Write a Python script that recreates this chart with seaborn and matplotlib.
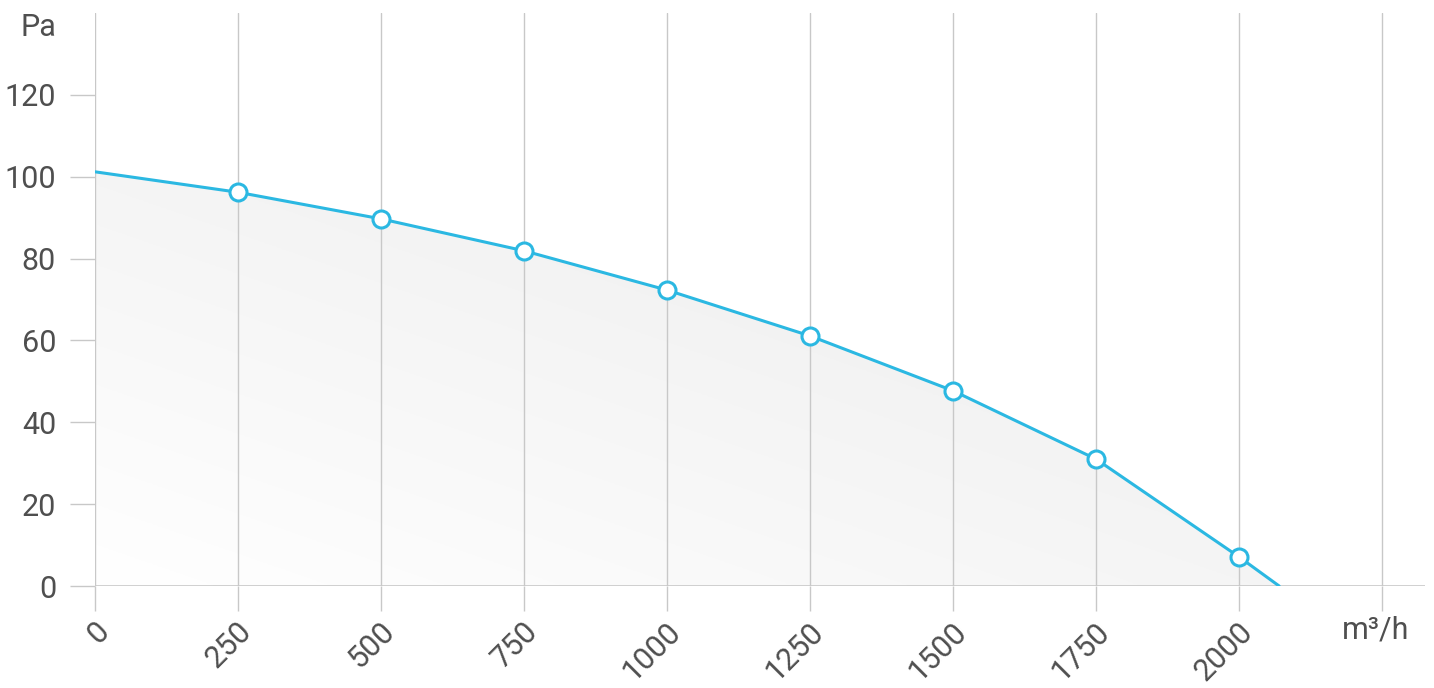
import matplotlib
matplotlib.use("Agg")
import matplotlib.pyplot as plt
import matplotlib.transforms as mtransforms
import seaborn as sns
import numpy as np
import pandas as pd
from matplotlib.path import Path
from matplotlib.patches import PathPatch

# fan curve: airflow (m3/h) vs static pressure (Pa)
flow = [0, 250, 500, 750, 1000, 1250, 1500, 1750, 2000, 2070]
pressure = [101.2, 96.2, 89.7, 81.9, 72.3, 61.1, 47.7, 31.0, 7.1, 0.0]
marker_flow = [250, 500, 750, 1000, 1250, 1500, 1750, 2000]
marker_pressure = [96.2, 89.7, 81.9, 72.3, 61.1, 47.7, 31.0, 7.1]
x_ticks = [0, 250, 500, 750, 1000, 1250, 1500, 1750, 2000, 2250]
x_labels = ["0", "250", "500", "750", "1000", "1250", "1500", "1750", "2000", ""]
y_ticks = [0, 20, 40, 60, 80, 100, 120]

df = pd.DataFrame({"flow": flow, "pressure": pressure})
dm = pd.DataFrame({"flow": marker_flow, "pressure": marker_pressure})

sns.set_theme(style="white")
plt.rcParams["font.family"] = ["Roboto", "DejaVu Sans"]
blue = "#2bb8e2"
grid_c = "#c8c8c8"
txt_c = "#4f4f4f"

fig = plt.figure(figsize=(14.34, 6.88), dpi=100)
ax = fig.add_axes([95/1434, 102/688, (1425-95)/1434, (586-13)/688])
ax.set_xlim(0, 2325)
ax.set_ylim(0, 140)

# gradient fill under curve
xx, yy = np.meshgrid(np.linspace(0, 2325, 300), np.linspace(0, 140, 300))
t = np.clip(0.5*yy/100 + 0.5*xx/2070, 0, 1)
shade = 1.0 - 0.08*t
img = ax.imshow(np.dstack([shade, shade, shade]), extent=[0, 2325, 0, 140],
                origin="lower", aspect="auto", zorder=1)
verts = list(zip(flow, pressure)) + [(2070, 0), (0, 0)]
clip = PathPatch(Path(verts), transform=ax.transData, facecolor="none", edgecolor="none")
ax.add_patch(clip)
img.set_clip_path(clip)

sns.lineplot(data=df, x="flow", y="pressure", color=blue, linewidth=2.2, ax=ax, zorder=4)
sns.scatterplot(data=dm, x="flow", y="pressure", s=150, facecolor="white",
                edgecolor=blue, linewidth=2.2, ax=ax, zorder=5)

for s in ax.spines.values():
    s.set_visible(False)
ax.axhline(0, color=grid_c, linewidth=1.2, zorder=2)
for x in x_ticks:
    ax.axvline(x, color=grid_c, linewidth=1.0, zorder=2)

ax.set_xticks(x_ticks)
ax.set_xticklabels(x_labels, rotation=45, ha="right", va="center", rotation_mode="anchor")
ax.set_yticks(y_ticks)
ax.tick_params(axis="x", length=18, width=1.0, color=grid_c, labelsize=22,
               labelcolor=txt_c, pad=11.5, direction="out", bottom=True)
ax.tick_params(axis="y", length=18, width=1.0, color=grid_c, labelsize=22,
               labelcolor=txt_c, pad=10, direction="out", left=True)
shift = mtransforms.ScaledTranslation(9/100, 0, fig.dpi_scale_trans)
for lab in ax.get_xticklabels():
    lab.set_transform(lab.get_transform() + shift)
ax.set_xlabel("")
ax.set_ylabel("")

fig.text(38/1434, 1 - 27/688, "Pa", fontsize=22, color=txt_c, ha="center", va="center")
fig.text(1376/1434, 1 - 630/688, "m³/h", fontsize=22, color=txt_c, ha="center",
         va="center")

fig.savefig("out.png", dpi=100, facecolor="white")
